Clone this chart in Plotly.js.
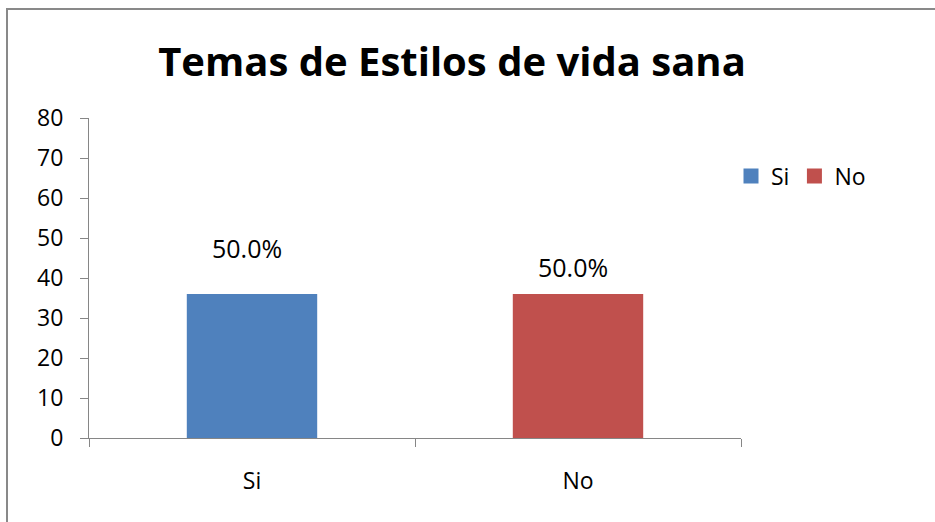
<!DOCTYPE html>
<html>
<head>
<meta charset="utf-8">
<script src="https://cdn.plot.ly/plotly-3.0.1.min.js"></script>
<style>
  html, body { margin: 0; padding: 0; background: #ffffff; }
  #chart { width: 935px; height: 522px; }
</style>
</head>
<body>
<div id="chart"></div>
<script>
const categories = ['Si', 'No'];
const values = [36, 36];
const pctLabels = ['50.0%', '50.0%'];
const colors = ['#4F81BD', '#C0504D'];
const titleText = 'Temas de Estilos de vida sana';
const yTicks = [0, 10, 20, 30, 40, 50, 60, 70, 80];

const FONT = '"Open Sans", "Noto Sans", sans-serif';

const barTraces = categories.map((c, i) => ({
  type: 'bar',
  name: c,
  x: [c],
  y: [values[i]],
  marker: { color: colors[i], line: { width: 0 } },
  showlegend: false,
  hoverinfo: 'none'
}));

// legend entries (square swatches) matching the bar colours
const legendTraces = categories.map((c, i) => ({
  type: 'scatter',
  mode: 'markers',
  name: c,
  x: [null],
  y: [null],
  marker: { color: colors[i], symbol: 'square', size: 15, line: { width: 0 } },
  showlegend: true,
  hoverinfo: 'none'
}));

// label vertical offsets (px) above bar tops, as in the reference
const labelShift = [46, 27];
const annotations = categories.map((c, i) => ({
  x: c, y: values[i], xref: 'x', yref: 'y',
  text: pctLabels[i], showarrow: false,
  xanchor: 'center', yanchor: 'middle',
  xshift: -5, yshift: labelShift[i],
  font: { family: FONT, size: 25, color: '#000000' }
}));

const layout = {
  width: 935, height: 522,
  paper_bgcolor: '#ffffff', plot_bgcolor: '#ffffff',
  margin: { l: 89, r: 194, t: 118, b: 84, pad: 0 },
  font: { family: FONT, size: 23, color: '#000000' },
  title: {
    text: '<b>' + titleText + '</b>',
    font: { family: FONT, size: 40, color: '#000000' },
    x: 452 / 935, xref: 'container', xanchor: 'center',
    y: 1 - 62 / 522, yref: 'container', yanchor: 'middle'
  },
  barmode: 'overlay',
  bargap: 0.6,
  xaxis: {
    type: 'category', categoryorder: 'array', categoryarray: categories,
    range: [-0.5, 1.5],
    showline: true, linecolor: '#868686', linewidth: 1,
    ticks: 'outside', tickson: 'boundaries', ticklen: 8, tickcolor: '#868686', tickwidth: 1,
    showgrid: false, zeroline: false,
    ticklabelstandoff: 22,
    tickfont: { family: FONT, size: 23, color: '#000000' },
    fixedrange: true
  },
  yaxis: {
    range: [0, 80], tickvals: yTicks, ticktext: yTicks.map(String),
    showline: true, linecolor: '#868686', linewidth: 1,
    ticks: 'outside', ticklen: 8, tickcolor: '#868686', tickwidth: 1,
    showgrid: false, zeroline: false,
    ticklabelstandoff: 12,
    tickfont: { family: FONT, size: 23, color: '#000000' },
    fixedrange: true
  },
  showlegend: true,
  legend: {
    orientation: 'h',
    x: (731 - 89) / 652, xanchor: 'left',
    y: (438 - 176) / 320, yanchor: 'middle',
    font: { family: FONT, size: 23, color: '#000000' },
    bgcolor: 'rgba(0,0,0,0)',
    itemwidth: 30, tracegroupgap: 0,
    traceorder: 'normal'
  },
  annotations: annotations,
  shapes: [{
    type: 'rect', xref: 'paper', yref: 'paper',
    x0: (7 - 89) / 652, x1: 1.6,
    y0: -0.5, y1: (438 - 9) / 320,
    line: { color: '#898989', width: 2 },
    fillcolor: 'rgba(0,0,0,0)',
    layer: 'below'
  }]
};

Plotly.newPlot('chart', barTraces.concat(legendTraces), layout, { staticPlot: true, displayModeBar: false });
</script>
</body>
</html>
